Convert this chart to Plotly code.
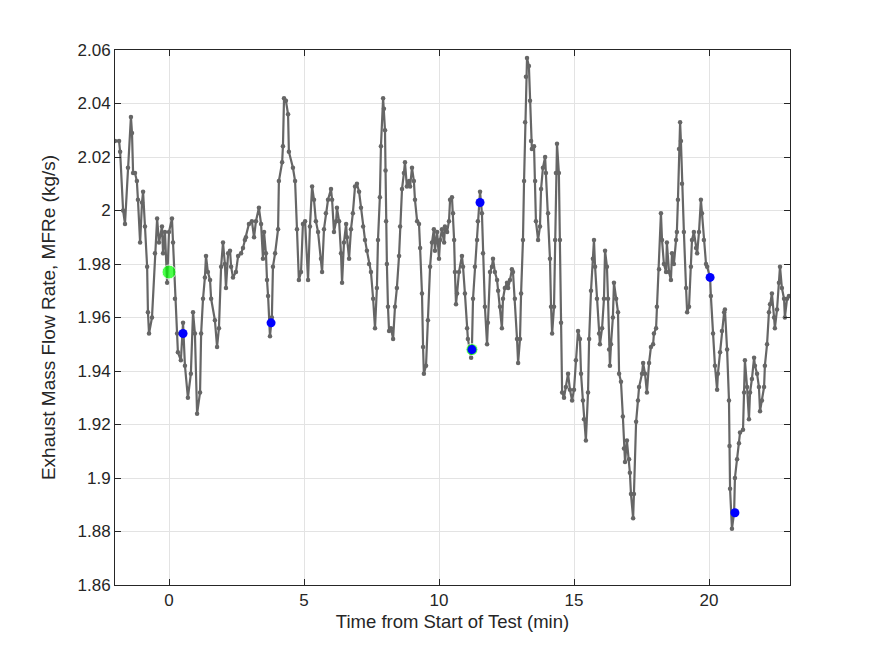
import plotly.graph_objects as go

t_min = [-2.00, -1.85, -1.81, -1.70, -1.63, -1.52, -1.41, -1.37, -1.33, -1.26, -1.19, -1.15, -1.07, -1.00, -0.96, -0.89,
         -0.81, -0.78, -0.74, -0.63, -0.52, -0.44, -0.37, -0.26, -0.22, -0.15, -0.07, 0.00, 0.11, 0.15, 0.22, 0.30,
         0.33, 0.44, 0.52, 0.59, 0.70, 0.81, 0.89, 0.96, 1.04, 1.15, 1.19, 1.26, 1.33, 1.37, 1.44, 1.52, 1.56, 1.70,
         1.78, 1.85, 1.93, 2.00, 2.07, 2.11, 2.19, 2.26, 2.30, 2.37, 2.48, 2.56, 2.67, 2.74, 2.81, 2.85, 2.96, 3.07,
         3.15, 3.22, 3.33, 3.41, 3.48, 3.52, 3.59, 3.63, 3.67, 3.74, 3.81, 3.85, 3.93, 4.04, 4.07, 4.19, 4.22, 4.26,
         4.33, 4.41, 4.44, 4.59, 4.67, 4.74, 4.81, 4.89, 4.96, 5.04, 5.15, 5.22, 5.30, 5.37, 5.44, 5.52, 5.63, 5.67,
         5.74, 5.81, 5.89, 6.00, 6.04, 6.11, 6.19, 6.22, 6.30, 6.37, 6.41, 6.48, 6.56, 6.59, 6.67, 6.74, 6.81, 6.89,
         6.96, 7.04, 7.11, 7.19, 7.26, 7.33, 7.41, 7.48, 7.56, 7.63, 7.70, 7.74, 7.81, 7.85, 7.93, 7.96, 8.00, 8.02,
         8.04, 8.07, 8.11, 8.15, 8.22, 8.30, 8.37, 8.44, 8.52, 8.56, 8.63, 8.70, 8.74, 8.81, 8.89, 8.93, 9.00, 9.07,
         9.11, 9.19, 9.26, 9.30, 9.37, 9.41, 9.44, 9.52, 9.59, 9.67, 9.74, 9.81, 9.85, 9.93, 10.00, 10.04, 10.11, 10.19,
         10.22, 10.30, 10.37, 10.41, 10.48, 10.52, 10.56, 10.59, 10.63, 10.67, 10.74, 10.85, 10.89, 10.96, 11.04, 11.07,
         11.19, 11.22, 11.26, 11.33, 11.41, 11.44, 11.52, 11.59, 11.63, 11.70, 11.78, 11.81, 11.89, 11.96, 12.00, 12.07,
         12.15, 12.19, 12.26, 12.33, 12.37, 12.44, 12.52, 12.56, 12.63, 12.70, 12.74, 12.81, 12.89, 12.93, 13.00, 13.04,
         13.11, 13.15, 13.19, 13.22, 13.26, 13.33, 13.37, 13.41, 13.44, 13.52, 13.56, 13.59, 13.67, 13.74, 13.78, 13.85,
         13.93, 13.96, 14.04, 14.11, 14.15, 14.19, 14.26, 14.30, 14.33, 14.37, 14.44, 14.48, 14.52, 14.56, 14.63, 14.70,
         14.78, 14.85, 14.93, 15.00, 15.07, 15.15, 15.22, 15.26, 15.33, 15.37, 15.44, 15.52, 15.56, 15.63, 15.70, 15.74,
         15.78, 15.85, 15.93, 15.96, 16.04, 16.11, 16.15, 16.22, 16.26, 16.30, 16.33, 16.37, 16.44, 16.48, 16.56, 16.63,
         16.67, 16.74, 16.81, 16.85, 16.89, 16.96, 17.04, 17.07, 17.11, 17.19, 17.22, 17.30, 17.37, 17.41, 17.52, 17.56,
         17.63, 17.70, 17.78, 17.85, 17.93, 17.96, 18.04, 18.07, 18.15, 18.22, 18.26, 18.33, 18.41, 18.44, 18.52, 18.59,
         18.63, 18.70, 18.78, 18.81, 18.85, 18.89, 18.93, 18.96, 19.00, 19.07, 19.15, 19.19, 19.26, 19.33, 19.37, 19.44,
         19.52, 19.56, 19.63, 19.70, 19.74, 19.81, 19.89, 19.93, 20.04, 20.07, 20.15, 20.22, 20.30, 20.33, 20.41, 20.48,
         20.56, 20.59, 20.67, 20.74, 20.76, 20.78, 20.85, 20.93, 20.96, 21.04, 21.11, 21.15, 21.26, 21.30, 21.33, 21.41,
         21.48, 21.52, 21.59, 21.67, 21.70, 21.78, 21.85, 21.89, 21.96, 22.04, 22.07, 22.15, 22.22, 22.26, 22.33, 22.41,
         22.44, 22.52, 22.59, 22.63, 22.70, 22.78, 22.81, 22.89, 22.96, 23.04]

mfre = [2.026, 2.026, 2.022, 2.000, 1.995, 2.016, 2.035, 2.029, 2.014, 2.014, 2.011, 2.004, 1.988, 2.003, 2.007, 1.994,
        1.979, 1.962, 1.954, 1.960, 1.984, 1.997, 1.988, 1.994, 1.984, 1.992, 1.973, 1.992, 1.997, 1.988, 1.967, 1.954,
        1.947, 1.944, 1.958, 1.942, 1.930, 1.939, 1.962, 1.954, 1.924, 1.932, 1.954, 1.967, 1.975, 1.983, 1.977, 1.974,
        1.967, 1.959, 1.949, 1.956, 1.979, 1.988, 1.980, 1.971, 1.984, 1.985, 1.979, 1.975, 1.977, 1.983, 1.984, 1.986,
        1.989, 1.990, 1.995, 1.996, 1.990, 1.996, 2.001, 1.995, 1.982, 1.992, 1.984, 1.974, 1.968, 1.953, 1.960, 1.979,
        1.984, 1.993, 2.011, 2.018, 2.024, 2.042, 2.041, 2.036, 2.022, 2.016, 2.011, 1.993, 1.974, 1.977, 1.995, 1.996,
        1.974, 1.994, 2.009, 2.004, 1.996, 1.992, 1.982, 1.977, 1.993, 1.999, 2.004, 2.008, 2.004, 1.992, 1.996, 2.001,
        1.996, 1.984, 1.973, 1.988, 1.995, 1.990, 1.982, 1.993, 1.999, 2.009, 2.010, 2.007, 2.001, 1.994, 1.989, 1.985,
        1.980, 1.977, 1.967, 1.956, 1.971, 1.989, 2.005, 2.024, 2.042, 2.038, 2.030, 2.015, 1.996, 1.980, 1.964, 1.955,
        1.956, 1.952, 1.964, 1.971, 1.983, 1.994, 2.008, 2.014, 2.018, 2.009, 2.011, 2.009, 2.016, 2.011, 2.004, 1.996,
        1.995, 1.986, 1.969, 1.949, 1.939, 1.942, 1.959, 1.979, 1.988, 1.993, 1.985, 1.992, 1.982, 1.989, 1.993, 1.988,
        1.994, 1.992, 1.996, 2.004, 2.005, 1.999, 1.989, 1.977, 1.965, 1.969, 1.977, 1.983, 1.979, 1.969, 1.956, 1.952,
        1.945, 1.949, 1.967, 1.979, 1.989, 1.996, 2.007, 1.999, 1.984, 1.964, 1.950, 1.958, 1.977, 1.979, 1.982, 1.977,
        1.974, 1.970, 1.964, 1.956, 1.967, 1.971, 1.973, 1.971, 1.974, 1.978, 1.977, 1.967, 1.952, 1.943, 1.952, 1.969,
        1.989, 2.011, 2.033, 2.050, 2.057, 2.054, 2.041, 2.026, 2.023, 2.024, 2.011, 1.996, 1.989, 1.994, 2.008, 2.016,
        2.020, 2.014, 1.999, 1.982, 1.964, 1.954, 1.964, 1.989, 2.014, 2.025, 2.014, 1.989, 1.958, 1.932, 1.930, 1.934,
        1.939, 1.933, 1.929, 1.933, 1.944, 1.955, 1.952, 1.939, 1.929, 1.922, 1.914, 1.932, 1.952, 1.970, 1.982, 1.989,
        1.979, 1.967, 1.954, 1.950, 1.956, 1.967, 1.985, 1.979, 1.967, 1.948, 1.942, 1.950, 1.960, 1.973, 1.967, 1.962,
        1.939, 1.936, 1.923, 1.911, 1.906, 1.914, 1.907, 1.902, 1.894, 1.885, 1.894, 1.921, 1.929, 1.934, 1.939, 1.943,
        1.939, 1.932, 1.943, 1.949, 1.950, 1.954, 1.956, 1.964, 1.978, 1.999, 1.989, 1.980, 1.977, 1.988, 1.977, 1.974,
        1.984, 1.980, 1.989, 1.992, 2.004, 2.023, 2.033, 2.026, 2.010, 1.992, 1.971, 1.962, 1.964, 1.979, 1.989, 1.992,
        1.986, 1.984, 1.992, 2.004, 1.999, 1.989, 1.980, 1.979, 1.975, 1.968, 1.954, 1.942, 1.933, 1.939, 1.947, 1.955,
        1.962, 1.963, 1.948, 1.929, 1.912, 1.896, 1.881, 1.887, 1.900, 1.907, 1.913, 1.917, 1.918, 1.932, 1.944, 1.934,
        1.922, 1.932, 1.937, 1.945, 1.942, 1.939, 1.934, 1.925, 1.929, 1.934, 1.942, 1.950, 1.962, 1.965, 1.969, 1.960,
        1.956, 1.963, 1.973, 1.979, 1.971, 1.967, 1.960, 1.967, 1.968, 1.968]

blue_t = [0.52, 3.78, 11.22, 11.52, 20.04, 20.96]
blue_v = [1.954, 1.958, 1.948, 2.003, 1.975, 1.887]
green_t = [0.0, 11.22]
green_v = [1.977, 1.948]
green_size = [14, 12]

y_ticks = [1.86, 1.88, 1.90, 1.92, 1.94, 1.96, 1.98, 2.00, 2.02, 2.04, 2.06]
y_ticktext = ["1.86", "1.88", "1.9", "1.92", "1.94", "1.96", "1.98", "2", "2.02", "2.04", "2.06"]
x_ticks = [0, 5, 10, 15, 20]

fig = go.Figure()
fig.add_trace(go.Scatter(x=t_min, y=mfre, mode="lines+markers",
                         line=dict(color="#666666", width=2.2),
                         marker=dict(color="#666666", size=4.5), showlegend=False))
fig.add_trace(go.Scatter(x=green_t, y=green_v, mode="markers",
                         marker=dict(color="#00ff00", size=green_size), showlegend=False))
fig.add_trace(go.Scatter(x=blue_t, y=blue_v, mode="markers",
                         marker=dict(color="#0000ff", size=9), showlegend=False))

font = "Liberation Sans, Arial, sans-serif"
fig.update_layout(
    width=875, height=656,
    margin=dict(l=115, r=85, t=50, b=71),
    paper_bgcolor="white", plot_bgcolor="white",
    font=dict(family=font, size=17, color="#262626"),
)
fig.update_xaxes(range=[-2, 23], tickvals=x_ticks, ticks="inside", ticklen=6,
                 tickcolor="#262626", showline=True, mirror="ticks", linecolor="#262626",
                 linewidth=1, showgrid=True, gridcolor="#e3e3e3", zeroline=False,
                 title=dict(text="Time from Start of Test (min)", font=dict(size=18.5), standoff=5),
                 tickfont=dict(size=17))
fig.update_yaxes(range=[1.86, 2.06], tickvals=y_ticks, ticktext=y_ticktext, ticks="inside",
                 ticklen=6, tickcolor="#262626", showline=True, mirror="ticks",
                 linecolor="#262626", linewidth=1, showgrid=True, gridcolor="#e3e3e3",
                 zeroline=False,
                 title=dict(text="Exhaust Mass Flow Rate, MFRe (kg/s)", font=dict(size=19), standoff=16),
                 tickfont=dict(size=17))

fig.write_html("out.html")
